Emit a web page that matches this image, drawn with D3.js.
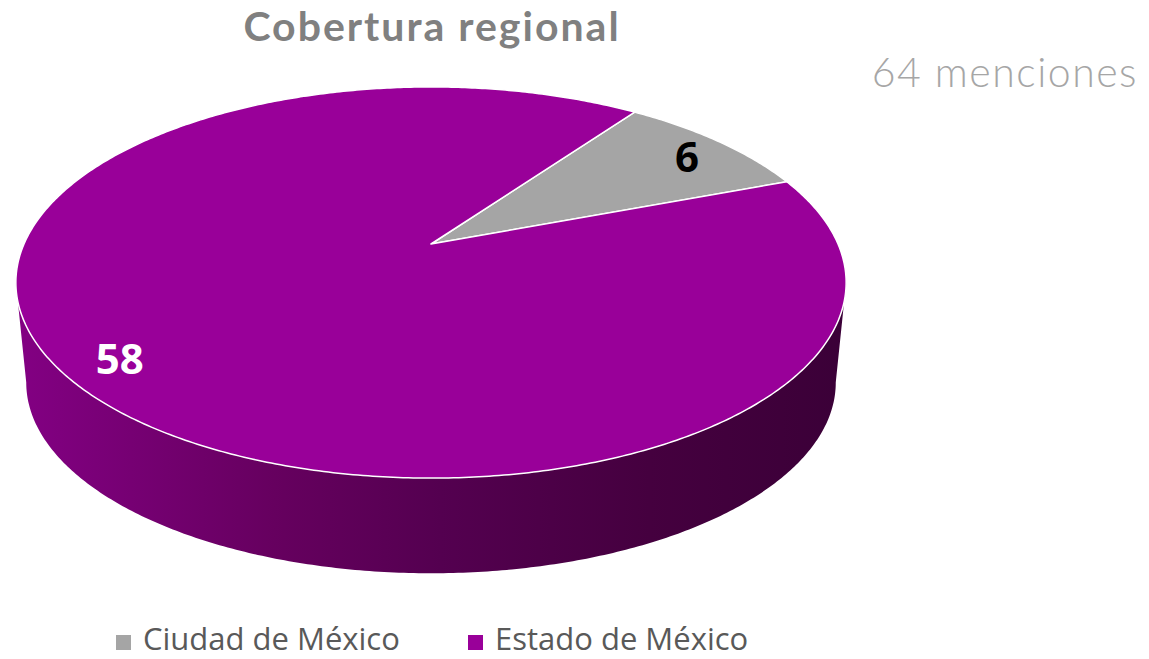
<!DOCTYPE html>
<html>
<head>
<meta charset="utf-8">
<script src="https://cdn.jsdelivr.net/npm/d3@7"></script>
<style>
  body { margin: 0; background: #fff; }
  svg { display: block; }
</style>
</head>
<body>
<svg id="chart"></svg>
<script>
const categories = ['Ciudad de México', 'Estado de México']
const values = [6, 58]
const colors = ['#a5a5a5', '#990099']
const title = 'Cobertura regional'

const width = 1149
const height = 659

// pie geometry (perspective tilted disc)
const cx = 431, cy = 244
const R = 407, B = 188, k = -0.197
const depth = 101, bottomScale = 0.975
const startDeg = 35.5

const svg = d3.select('#chart')
    .attr('width', width)
    .attr('height', height)

// project a point of the disc (angle a clockwise from 12 o'clock, radius r) to the screen
function proj(a, r, bottom) {
    const u = r * Math.sin(a)
    const v = -r * Math.cos(a)
    const w = 1 + k * v
    const s = bottom ? bottomScale : 1
    return [cx + R * s * u / w, cy + (bottom ? depth : 0) + B * s * v / w]
}

const pie = d3.pie()
    .sort(null)
    .value(d => d)
    .startAngle(startDeg * Math.PI / 180)
    .endAngle(startDeg * Math.PI / 180 + 2 * Math.PI)

const arcs = pie(values)

// wall gradient
const defs = svg.append('defs')
const grad = defs.append('linearGradient')
    .attr('id', 'wall')
    .attr('gradientUnits', 'userSpaceOnUse')
    .attr('x1', cx - R).attr('y1', 0)
    .attr('x2', cx + R + 20).attr('y2', 0)
const stops = [[0, '#820082'], [0.3, '#66005f'], [0.5, '#540050'], [0.75, '#45003f'], [1, '#3a0037']]
stops.forEach(s => grad.append('stop').attr('offset', s[0]).attr('stop-color', s[1]))

// visible part of the outer wall lies between the silhouette angles
const aRight = Math.PI - Math.acos(-k)
const aLeft = Math.PI + Math.acos(-k)

function sample(a0, a1, bottom) {
    const n = Math.max(2, Math.ceil(Math.abs(a1 - a0) / 0.01))
    const pts = []
    for (let i = 0; i <= n; i++) {
        pts.push(proj(a0 + (a1 - a0) * i / n, 1, bottom))
    }
    return pts
}

function wallPath(d) {
    // check both the plain range and the range shifted by one turn
    const parts = []
    for (const off of [0, 2 * Math.PI]) {
        const b0 = Math.max(d.startAngle, aRight + off)
        const b1 = Math.min(d.endAngle, aLeft + off)
        if (b1 > b0) parts.push([b0, b1])
    }
    return parts.map(([b0, b1]) => {
        const top = sample(b0, b1, false)
        const bot = sample(b0, b1, true).reverse()
        return d3.line()(top.concat(bot)) + 'Z'
    }).join('')
}

function topPath(d) {
    const pts = [[cx, cy]].concat(sample(d.startAngle, d.endAngle, false))
    return d3.line()(pts) + 'Z'
}

svg.append('g')
    .selectAll('path')
    .data(arcs)
    .join('path')
    .attr('d', wallPath)
    .attr('fill', 'url(#wall)')

svg.append('g')
    .selectAll('path')
    .data(arcs)
    .join('path')
    .attr('d', topPath)
    .attr('fill', (d, i) => colors[i])
    .attr('stroke', '#ffffff')
    .attr('stroke-width', 1.5)
    .attr('stroke-linejoin', 'round')

// data labels
svg.append('g')
    .selectAll('text')
    .data(arcs)
    .join('text')
    .attr('x', d => proj((d.startAngle + d.endAngle) / 2, 0.87, false)[0] + 2)
    .attr('y', d => proj((d.startAngle + d.endAngle) / 2, 0.87, false)[1] + 2)
    .attr('text-anchor', 'middle')
    .attr('dominant-baseline', 'central')
    .attr('font-family', '"Open Sans", sans-serif')
    .attr('font-weight', 'bold')
    .attr('font-size', '42px')
    .attr('fill', (d, i) => i === 0 ? '#000000' : '#ffffff')
    .text(d => d.data)

// title
svg.append('text')
    .attr('x', 432)
    .attr('y', 41)
    .attr('text-anchor', 'middle')
    .attr('font-family', 'Lato, sans-serif')
    .attr('font-weight', 'bold')
    .attr('font-size', '41px')
    .attr('letter-spacing', '2px')
    .attr('fill', '#808080')
    .text(title)

// total mentions
svg.append('text')
    .attr('x', 1138)
    .attr('y', 87)
    .attr('text-anchor', 'end')
    .attr('font-family', 'Lato, sans-serif')
    .attr('font-weight', 300)
    .attr('font-size', '41px')
    .attr('letter-spacing', '1.5px')
    .attr('fill', '#a6a6a6')
    .text(d3.sum(values) + ' menciones')

// legend
const legendX = d3.scaleOrdinal().domain(categories).range([116, 468])
const legend = svg.append('g')
    .selectAll('g')
    .data(categories)
    .join('g')
    .attr('transform', d => `translate(${legendX(d)},0)`)

legend.append('rect')
    .attr('x', 0)
    .attr('y', 635)
    .attr('width', 15)
    .attr('height', 15)
    .attr('fill', (d, i) => colors[i])

legend.append('text')
    .attr('x', 27)
    .attr('y', 650)
    .attr('font-family', '"Open Sans", sans-serif')
    .attr('font-size', '31px')
    .attr('fill', '#595959')
    .text(d => d)
</script>
</body>
</html>
